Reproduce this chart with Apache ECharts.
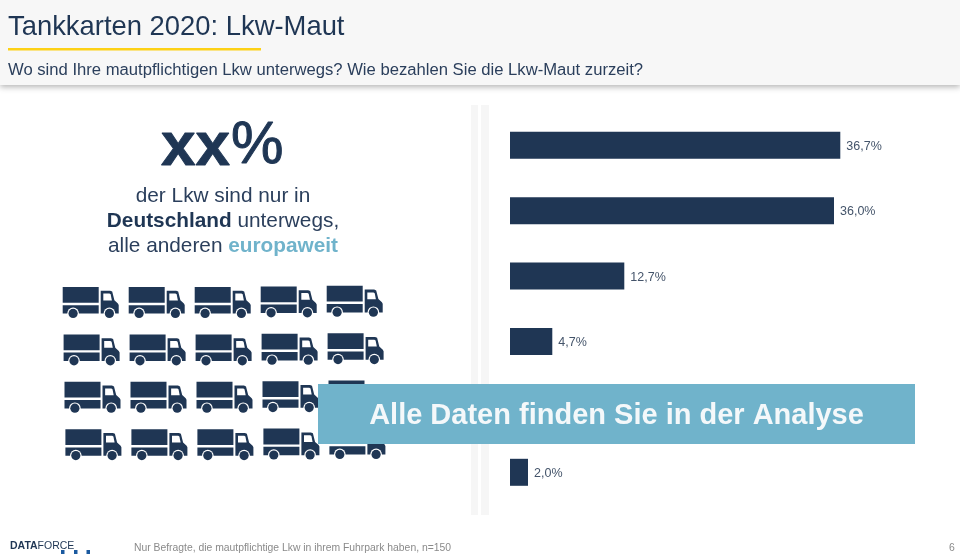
<!DOCTYPE html>
<html>
<head>
<meta charset="utf-8">
<style>html,body{margin:0;padding:0;background:#fff}#c{width:960px;height:560px}</style>
<script src="https://cdn.jsdelivr.net/npm/echarts@6/dist/echarts.min.js"></script>
</head>
<body>
<div id="c"></div>
<script>
const categories = ['A','B','C','D','E','F'];
const values = [36.7, 36.0, 12.7, 4.7, 3.3, 2.0];
const truckCols = [0,1,2,3,4];
const truckRows = [0,1,2,3];

const navy = '#1f3654';
const teal = '#70b3cb';
const font = '"Liberation Sans", Arial, sans-serif';

function truck(x, y) {
  return {
    type: 'group', x: x, y: y, z: 5,
    children: [
      {type:'rect', shape:{x:0,y:0,width:36,height:15.8}, style:{fill:navy}, z:5},
      {type:'rect', shape:{x:0,y:18.2,width:36,height:8.4}, style:{fill:navy}, z:5},
      {type:'polygon', shape:{points:[[38,3.8],[47.5,3.8],[49.5,4.6],[51.7,13.3],[55.2,16.5],[56,18],[56,26.6],[38,26.6]]}, style:{fill:navy}, z:5},
      {type:'polygon', shape:{points:[[40.6,6.6],[46.8,6.6],[48,7.4],[49.2,13.4],[40.6,13.4]]}, style:{fill:'#ffffff'}, z:6},
      {type:'circle', shape:{cx:10.4,cy:26.4,r:5.8}, style:{fill:'#ffffff'}, z:6},
      {type:'circle', shape:{cx:10.4,cy:26.4,r:4.6}, style:{fill:navy}, z:7},
      {type:'circle', shape:{cx:46.7,cy:26.4,r:5.8}, style:{fill:'#ffffff'}, z:6},
      {type:'circle', shape:{cx:46.7,cy:26.4,r:4.6}, style:{fill:navy}, z:7}
    ]
  };
}
const trucks = [];
truckRows.forEach(r => truckCols.forEach(c => {
  const tx = 62.7 + r * 0.9 + c * 66;
  const ty = 287 + r * 47.4 - (c >= 3 ? (c - 2) * 0.6 : 0);
  trucks.push(truck(tx, ty));
}));

const chart = echarts.init(document.getElementById('c'), null, {renderer:'canvas'});
chart.setOption({
  animation: false,
  backgroundColor: '#ffffff',
  textStyle: {fontFamily: font},
  title: [
    {text:'Tankkarten 2020: Lkw-Maut', left:3, top:9, z:20, textStyle:{fontFamily:font,fontSize:27.4,fontWeight:'normal',color:navy}},
    {text:'Wo sind Ihre mautpflichtigen Lkw unterwegs? Wie bezahlen Sie die Lkw-Maut zurzeit?', left:3, top:57, z:20, textStyle:{fontFamily:font,fontSize:16.65,fontWeight:'normal',color:'#2b3f5c'}}
  ],
  grid: {left:510, top:112.6, width:360, height:392.4, containLabel:false},
  xAxis: {type:'value', min:0, max:40, show:false},
  yAxis: {type:'category', data:categories, inverse:true, show:false},
  series: [{
    type:'bar', data:values, barWidth:27, z:3,
    itemStyle:{color:navy},
    label:{show:true, position:'right', distance:6, offset:[0,1], fontFamily:font, fontSize:12.5, color:'#44546a',
      formatter:(p)=>p.value.toFixed(1).replace('.',',')+'%'}
  }],
  graphic: [
    {type:'rect', z:1, shape:{x:0,y:0,width:960,height:85}, style:{fill:'#f7f7f7',shadowBlur:6,shadowOffsetY:2,shadowColor:'rgba(0,0,0,0.3)'}},
    {type:'rect', z:2, shape:{x:8,y:48,width:253,height:2.4}, style:{fill:'#fdd116'}},
    {type:'rect', z:1, shape:{x:471,y:105,width:7,height:410}, style:{fill:'#f6f6f6'}},
    {type:'rect', z:1, shape:{x:481,y:105,width:8,height:410}, style:{fill:'#f6f6f6'}},
    {type:'text', z:5, x:230, y:179, style:{text:'xx', fill:navy, stroke:navy, lineWidth:1, font:'bold 62px '+font, align:'right', verticalAlign:'bottom'}},
    {type:'text', z:5, x:231, y:176, style:{text:'%', fill:navy, stroke:navy, lineWidth:1, font:'normal 59px '+font, align:'left', verticalAlign:'bottom'}},
    {type:'text', z:5, x:223, y:196, style:{text:'der Lkw sind nur in', fill:'#2b3f5c', font:'20.8px '+font, align:'center', verticalAlign:'middle'}},
    {type:'text', z:5, x:223, y:221, style:{text:'{b|Deutschland }{n|unterwegs,}', align:'center', verticalAlign:'middle', rich:{b:{font:'bold 20.8px '+font, fill:navy}, n:{font:'20.8px '+font, fill:'#2b3f5c'}}}},
    {type:'text', z:5, x:223, y:246, style:{text:'{n|alle anderen }{t|europaweit}', align:'center', verticalAlign:'middle', rich:{t:{font:'bold 20.8px '+font, fill:teal}, n:{font:'20.8px '+font, fill:'#2b3f5c'}}}},
    ...trucks,
    {type:'rect', z:50, shape:{x:318,y:384,width:597,height:60}, style:{fill:teal}},
    {type:'text', z:51, x:616.5, y:416, style:{text:'Alle Daten finden Sie in der Analyse', fill:'#f4f8fa', font:'bold 29px '+font, align:'center', verticalAlign:'middle'}},
    {type:'text', z:5, x:10, y:546, style:{text:'{b|DATA}{n|FORCE}', align:'left', verticalAlign:'middle', rich:{b:{font:'bold 10.5px '+font, fill:navy}, n:{font:'10.5px '+font, fill:navy}}}},
    {type:'rect', z:6, shape:{x:61,y:550,width:3.5,height:4}, style:{fill:'#1b5aa0'}},
    {type:'rect', z:6, shape:{x:74,y:550,width:3.5,height:4}, style:{fill:'#1b5aa0'}},
    {type:'rect', z:6, shape:{x:86.5,y:550,width:3.5,height:4}, style:{fill:'#1b5aa0'}},
    {type:'text', z:5, x:134, y:548, style:{text:'Nur Befragte, die mautpflichtige Lkw in ihrem Fuhrpark haben, n=150', fill:'#8a8a8a', font:'10.37px '+font, align:'left', verticalAlign:'middle'}},
    {type:'text', z:5, x:949, y:548, style:{text:'6', fill:'#8a8a8a', font:'10.4px '+font, align:'left', verticalAlign:'middle'}}
  ]
});
</script>
</body>
</html>
